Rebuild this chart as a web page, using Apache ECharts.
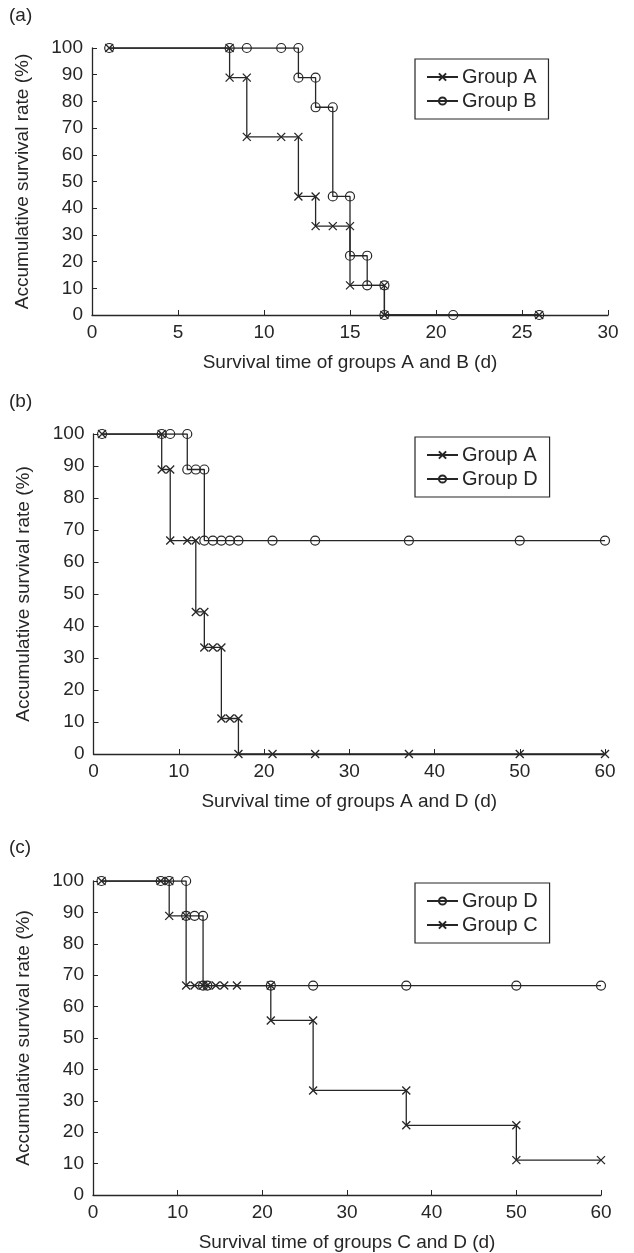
<!DOCTYPE html>
<html>
<head>
<meta charset="utf-8">
<script src="https://cdn.jsdelivr.net/npm/echarts@6/dist/echarts.min.js"></script>
<style>
html,body{margin:0;padding:0;background:#fff;}
#chart{width:634px;height:1253px;}
</style>
</head>
<body>
<div id="chart"></div>
<script>
// ---- Data (survival time in days, accumulative survival rate in %) ----
const panelLabels = ['(a)', '(b)', '(c)'];
const xAxisTitles = ['Survival time of groups A and B (d)', 'Survival time of groups A and D (d)', 'Survival time of groups C and D (d)'];
const yAxisTitle = 'Accumulative survival rate (%)';

// Panel (a)
const aGroupA_t = [1, 8, 8, 9, 9, 11, 12, 12, 13, 13, 14, 15, 15, 17, 17, 26];
const aGroupA_s = [100, 100, 88.9, 88.9, 66.7, 66.7, 66.7, 44.4, 44.4, 33.3, 33.3, 33.3, 11.1, 11.1, 0, 0];
const aGroupB_t = [1, 8, 9, 11, 12, 12, 13, 13, 14, 14, 15, 15, 16, 16, 17, 17, 21, 26];
const aGroupB_s = [100, 100, 100, 100, 100, 88.9, 88.9, 77.8, 77.8, 44.4, 44.4, 22.2, 22.2, 11.1, 11.1, 0, 0, 0];

// Panel (b)
const bGroupA_t = [1, 8, 8, 9, 9, 11, 12, 12, 13, 13, 14, 15, 15, 16, 17, 17, 21, 26, 37, 50, 60];
const bGroupA_s = [100, 100, 88.9, 88.9, 66.7, 66.7, 66.7, 44.4, 44.4, 33.3, 33.3, 33.3, 11.1, 11.1, 11.1, 0, 0, 0, 0, 0, 0];
const bGroupD_t = [1, 8, 9, 11, 11, 12, 13, 13, 14, 15, 16, 17, 21, 26, 37, 50, 60];
const bGroupD_s = [100, 100, 100, 100, 88.9, 88.9, 88.9, 66.7, 66.7, 66.7, 66.7, 66.7, 66.7, 66.7, 66.7, 66.7, 66.7];

// Panel (c)
const cGroupD_t = [1, 8, 9, 11, 11, 12, 13, 13, 13.5, 21, 26, 37, 50, 60];
const cGroupD_s = [100, 100, 100, 100, 88.9, 88.9, 88.9, 66.7, 66.7, 66.7, 66.7, 66.7, 66.7, 66.7];
const cGroupC_t = [1, 8, 9, 9, 11, 11, 12, 13, 13.5, 14.5, 15.5, 17, 21, 21, 26, 26, 37, 37, 50, 50, 60];
const cGroupC_s = [100, 100, 100, 88.9, 88.9, 66.7, 66.7, 66.7, 66.7, 66.7, 66.7, 66.7, 66.7, 55.6, 55.6, 33.3, 33.3, 22.2, 22.2, 11.1, 11.1];

const xMax = [30, 60, 60];
const xInterval = [5, 10, 10];

// ---- Styling ----
const INK = '#262626';
const FONT = '"Liberation Sans", Arial, Helvetica, sans-serif';
const FS = 19;
const crossSymbol = 'path://M0,0L10,10M0,10L10,0';

const zip = (t, s) => t.map((v, i) => [v, s[i]]);

function crossSeries(name, idx, t, s) {
  return {
    name, type: 'line', xAxisIndex: idx, yAxisIndex: idx,
    data: zip(t, s), symbol: crossSymbol, symbolSize: 8, showAllSymbol: true,
    lineStyle: { color: INK, width: 1.3 },
    itemStyle: { color: 'none', borderColor: INK, borderWidth: 1.3 },
    emphasis: { disabled: true }, z: 3
  };
}
function circleSeries(name, idx, t, s) {
  return {
    name, type: 'line', xAxisIndex: idx, yAxisIndex: idx,
    data: zip(t, s), symbol: 'circle', symbolSize: 9, showAllSymbol: true,
    lineStyle: { color: INK, width: 1.3 },
    itemStyle: { color: 'none', borderColor: INK, borderWidth: 1.2 },
    emphasis: { disabled: true }, z: 3
  };
}

const grids = [
  { left: 92, top: 48, width: 516, height: 267 },
  { left: 93.5, top: 434, width: 511.5, height: 320 },
  { left: 93, top: 881, width: 508, height: 314 }
];

const xAxes = grids.map((g, i) => ({
  type: 'value', gridIndex: i, min: 0, max: xMax[i], interval: xInterval[i],
  name: xAxisTitles[i], nameLocation: 'middle', nameGap: 38,
  nameTextStyle: { color: INK, fontSize: FS, fontFamily: FONT },
  axisLine: { show: true, onZero: false, lineStyle: { color: INK, width: 1.3 } },
  axisTick: { show: true, inside: true, length: 5, lineStyle: { color: INK, width: 1 } },
  axisLabel: { color: INK, fontSize: FS, fontFamily: FONT, margin: 8 },
  splitLine: { show: false }
}));

const yAxes = grids.map((g, i) => ({
  type: 'value', gridIndex: i, min: 0, max: 100, interval: 10,
  name: yAxisTitle, nameLocation: 'middle', nameGap: 60,
  nameTextStyle: { color: INK, fontSize: FS, fontFamily: FONT },
  axisLine: { show: true, onZero: false, lineStyle: { color: INK, width: 1.3 } },
  axisTick: { show: true, inside: true, length: 5, lineStyle: { color: INK, width: 1 } },
  axisLabel: { color: INK, fontSize: FS, fontFamily: FONT, margin: 9 },
  splitLine: { show: false }
}));

const legendBase = {
  orient: 'vertical', left: 415, itemWidth: 31, itemHeight: 9, itemGap: 4,
  padding: [8, 12, 8, 11], borderColor: INK, borderWidth: 1.2, borderRadius: 0,
  textStyle: { color: INK, fontSize: 20, fontFamily: FONT, padding: [0, 0, 0, -1] },
  selectedMode: false, backgroundColor: '#fff'
};

const option = {
  animation: false,
  backgroundColor: '#fff',
  grid: grids,
  xAxis: xAxes,
  yAxis: yAxes,
  legend: [
    Object.assign({}, legendBase, { top: 59, data: [{ name: 'Group A' }, { name: 'Group B' }] }),
    Object.assign({}, legendBase, { top: 437, data: [{ name: 'Group A' }, { name: 'Group D' }] }),
    Object.assign({}, legendBase, { top: 883, data: [{ name: 'Group D' }, { name: 'Group C' }] })
  ],
  graphic: panelLabels.map((lab, i) => ({
    type: 'text', left: 9, top: [6, 392, 838][i],
    style: { text: lab, fill: INK, fontSize: FS, fontFamily: FONT }
  })),
  series: [
    crossSeries('Group A', 0, aGroupA_t, aGroupA_s),
    circleSeries('Group B', 0, aGroupB_t, aGroupB_s),
    crossSeries('Group A', 1, bGroupA_t, bGroupA_s),
    circleSeries('Group D', 1, bGroupD_t, bGroupD_s),
    circleSeries('Group D', 2, cGroupD_t, cGroupD_s),
    crossSeries('Group C', 2, cGroupC_t, cGroupC_s)
  ]
};

const chart = echarts.init(document.getElementById('chart'), null, { renderer: 'canvas' });
chart.setOption(option);
</script>
</body>
</html>
